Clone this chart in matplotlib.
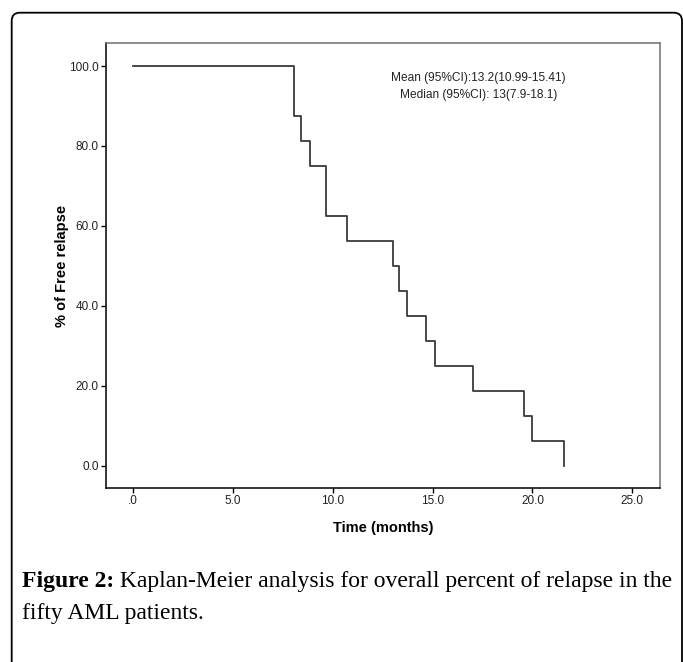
import numpy as np
import matplotlib
matplotlib.use("Agg")
import matplotlib.pyplot as plt
from matplotlib.patches import FancyBboxPatch

plt.rcParams['font.family'] = ['Liberation Sans', 'DejaVu Sans']

# Kaplan-Meier curve (time in months, % free of relapse)
times = [0.0, 8.05, 8.42, 8.84, 9.64, 9.68, 10.72, 13.0, 13.3, 13.72,
         14.69, 15.12, 17.0, 19.58, 20.0, 21.58]
surv = [100.0, 87.5, 81.25, 75.0, 68.75, 62.5, 56.25, 50.0, 43.75, 37.5,
        31.25, 25.0, 18.75, 12.5, 6.25, 0.0]

x_ticks = [0, 5, 10, 15, 20, 25]
x_labels = ['.0', '5.0', '10.0', '15.0', '20.0', '25.0']
y_ticks = [0, 20, 40, 60, 80, 100]
y_labels = ['0.0', '20.0', '40.0', '60.0', '80.0', '100.0']

stats_text = "Mean (95%CI):13.2(10.99-15.41)\nMedian (95%CI): 13(7.9-18.1)"
caption_bold = "Figure 2:"
caption_rest = " Kaplan-Meier analysis for overall percent of relapse in the"
caption_line2 = "fifty AML patients."

W, H = 683, 662
fig = plt.figure(figsize=(W / 100, H / 100), dpi=100)
ax = fig.add_axes([105.7 / W, 1 - 488 / H, (660 - 105.7) / W, (488 - 43.3) / H])

ax.step(times, surv, where='post', color='#3a3a3a', lw=1.3)

ax.set_xlim(-1.38, 26.39)
ax.set_ylim(-5.6, 105.7)
ax.set_xticks(x_ticks)
ax.set_xticklabels(x_labels)
ax.set_yticks(y_ticks)
ax.set_yticklabels(y_labels)
ax.tick_params(direction='out', length=3.5, width=1, labelsize=8.5,
               colors='black', labelcolor='#222222', pad=1.5)

for side in ['left', 'bottom']:
    ax.spines[side].set_color('black')
    ax.spines[side].set_linewidth(1.1)
for side in ['top', 'right']:
    ax.spines[side].set_color('#707070')
    ax.spines[side].set_linewidth(1.1)

ax.set_xlabel('Time (months)', fontsize=10.5, fontweight='bold', labelpad=10)
ax.set_ylabel('% of Free relapse', fontsize=10.5, fontweight='bold', labelpad=0)

ax.text(17.3, 98.6, stats_text, ha='center', va='top', fontsize=8.6,
        color='#222222', linespacing=1.6)

# rounded frame around the whole figure panel
frame = FancyBboxPatch((11.7 / W, -0.05), (682 - 11.7) / W, (1 - 12.7 / H) + 0.05,
                       boxstyle="round,pad=0,rounding_size=0.012",
                       transform=fig.transFigure, fill=False,
                       edgecolor='black', lw=1.3, mutation_aspect=W / H)
fig.add_artist(frame)

# caption: bold lead-in followed by regular text
serif = ['Liberation Serif', 'DejaVu Serif']
cap_size = 17
t1 = fig.text(22 / W, 1 - 587 / H, caption_bold, fontsize=cap_size,
              fontweight='bold', family=serif, va='baseline')
fig.canvas.draw()
bb = t1.get_window_extent(renderer=fig.canvas.get_renderer())
fig.text(bb.x1 / W, 1 - 587 / H, caption_rest, fontsize=cap_size,
         family=serif, va='baseline')
fig.text(22 / W, 1 - 619 / H, caption_line2, fontsize=cap_size,
         family=serif, va='baseline')

fig.savefig('out.png', dpi=100)
